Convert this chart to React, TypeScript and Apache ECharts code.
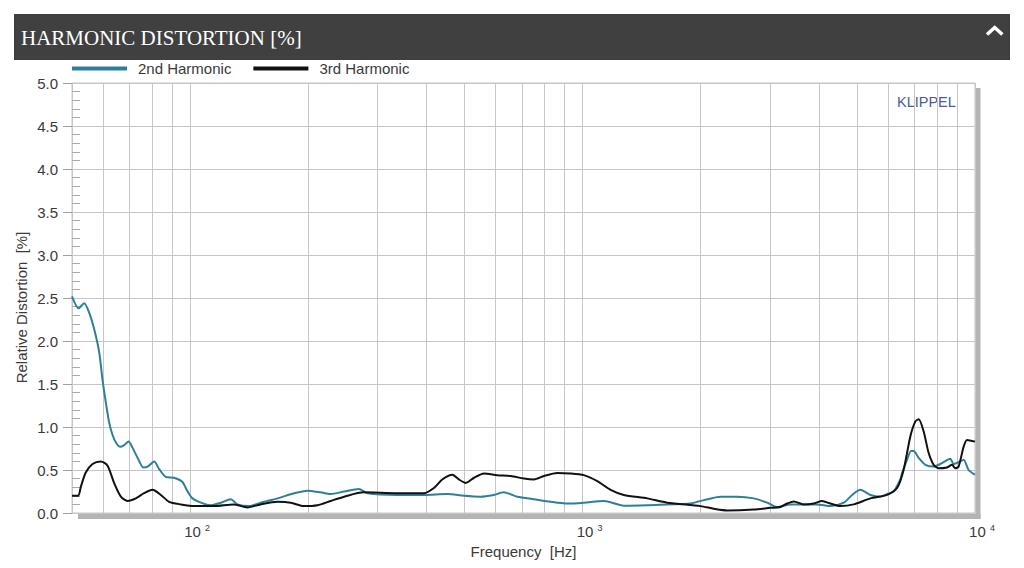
import React, { useEffect, useRef } from "react";
import * as echarts from "echarts";

const titleText = "HARMONIC DISTORTION [%]";
const seriesNames = ["2nd Harmonic", "3rd Harmonic"];
const seriesColors = ["#2f7f98", "#111111"];

const freq2 = [50, 52, 53.7, 55.3, 57, 58.7, 59.8, 61, 62.2, 63.4, 64.7, 66.3, 67.9, 69.7, 71.3, 73.5, 76, 77.9, 81, 83.4, 86.7, 91, 95.6, 98.5, 101.4, 106.5, 112.9, 119.7, 126.9, 132, 141.3, 151.4, 167, 184, 199, 215, 228, 247, 269, 283, 337, 394, 452, 499, 550, 594, 630, 682, 752, 829, 914, 1008, 1133, 1274, 1462, 1643, 1884, 2037, 2246, 2477, 2731, 2954, 3131, 3386, 3660, 3960, 4280, 4630, 4863, 5105, 5413, 5740, 5970, 6203, 6452, 6516, 6713, 6871, 6979, 7187, 7474, 7847, 8241, 8650, 8821, 9083, 9354, 9632, 10000];
const dist2 = [2.52, 2.38, 2.44, 2.33, 2.13, 1.86, 1.55, 1.28, 1.05, 0.91, 0.82, 0.77, 0.79, 0.83, 0.76, 0.64, 0.53, 0.54, 0.6, 0.51, 0.42, 0.41, 0.36, 0.25, 0.17, 0.12, 0.09, 0.12, 0.16, 0.1, 0.08, 0.12, 0.17, 0.23, 0.26, 0.24, 0.22, 0.25, 0.28, 0.23, 0.21, 0.21, 0.22, 0.2, 0.19, 0.21, 0.24, 0.19, 0.16, 0.13, 0.11, 0.12, 0.14, 0.085, 0.09, 0.1, 0.11, 0.15, 0.19, 0.19, 0.17, 0.12, 0.07, 0.1, 0.1, 0.1, 0.08, 0.12, 0.21, 0.27, 0.21, 0.19, 0.22, 0.25, 0.39, 0.46, 0.62, 0.72, 0.72, 0.64, 0.56, 0.54, 0.58, 0.63, 0.57, 0.59, 0.62, 0.5, 0.445];

const freq3 = [50, 51.8, 52.7, 54.2, 56.4, 59.2, 61.6, 64, 66.6, 69.3, 72.7, 76.3, 80.2, 84.2, 88.4, 94.7, 102.4, 115, 129, 140, 151, 167, 180.5, 195, 211, 228, 247, 277, 337, 394, 418, 439, 466, 484, 504, 529, 561, 606, 656, 709, 752, 797, 862, 932, 1008, 1090, 1179, 1274, 1462, 1643, 1998, 2160, 2337, 2731, 3010, 3193, 3321, 3452, 3660, 3882, 4077, 4280, 4539, 4908, 5413, 5970, 6330, 6577, 6842, 7047, 7187, 7397, 7617, 7847, 8080, 8489, 8738, 8910, 9083, 9354, 9543, 10000];
const dist3 = [0.2, 0.2, 0.31, 0.47, 0.57, 0.6, 0.55, 0.35, 0.19, 0.14, 0.17, 0.23, 0.27, 0.21, 0.13, 0.1, 0.08, 0.08, 0.1, 0.065, 0.1, 0.13, 0.12, 0.08, 0.09, 0.14, 0.19, 0.24, 0.23, 0.23, 0.29, 0.39, 0.445, 0.39, 0.35, 0.41, 0.46, 0.44, 0.43, 0.4, 0.39, 0.43, 0.465, 0.46, 0.44, 0.37, 0.27, 0.21, 0.17, 0.12, 0.08, 0.05, 0.03, 0.04, 0.06, 0.07, 0.11, 0.135, 0.1, 0.11, 0.14, 0.11, 0.08, 0.1, 0.17, 0.21, 0.29, 0.5, 0.89, 1.065, 1.09, 0.95, 0.7, 0.56, 0.52, 0.53, 0.56, 0.52, 0.54, 0.77, 0.85, 0.83];

const gridFreqs = [60, 70, 80, 90, 100, 200, 300, 400, 500, 600, 700, 800, 900, 1000, 2000, 3000, 4000, 5000, 6000, 7000, 8000, 9000, 10000];

const xMin = 50;
const xMax = 10000;
const yMin = 0;
const yMax = 5;
const yStep = 0.5;

const xTitle = "Frequency  [Hz]";
const yTitle = "Relative Distortion  [%]";
const brand = "KLIPPEL";

const SANS = "Liberation Sans, Arial, sans-serif";
const SERIF = "Liberation Serif, Times New Roman, serif";
const TXT = "#3a3a3a";
const GRID = "#c6c6c6";

export default function App() {
  const ref = useRef<HTMLDivElement>(null);
  useEffect(() => {
    if (!ref.current) return;
    const chart = echarts.init(ref.current, undefined, { renderer: "svg" });
    const d2 = freq2.map((f, i) => [f, dist2[i]]);
    const d3 = freq3.map((f, i) => [f, dist3[i]]);
    const option: any = {
      animation: false,
      backgroundColor: "#ffffff",
      grid: {
        left: 72,
        top: 83,
        width: 903,
        height: 430,
        show: true,
        borderColor: GRID,
        borderWidth: 1,
        backgroundColor: "#ffffff",
      },
      legend: {
        data: seriesNames,
        left: 72,
        top: 60,
        padding: 0,
        icon: "rect",
        itemWidth: 55,
        itemHeight: 4,
        itemGap: 22,
        selectedMode: false,
        textStyle: {
          fontSize: 15,
          fontFamily: SANS,
          color: TXT,
          padding: [0, 0, 0, 6],
          lineHeight: 17,
        },
      },
      xAxis: {
        type: "log",
        logBase: 10,
        min: xMin,
        max: xMax,
        axisLine: { show: false },
        axisTick: { show: false },
        splitLine: { show: false },
        axisLabel: {
          margin: 10,
          padding: [0, 0, 0, 14],
          formatter: (v: number) => {
            const e = Math.log10(v);
            if (Math.abs(e - Math.round(e)) < 1e-6 && v >= 99) {
              return "{b|10 }{s|" + Math.round(e) + "}";
            }
            return "";
          },
          rich: {
            b: { fontSize: 15, fontFamily: SANS, color: TXT, lineHeight: 17 },
            s: { fontSize: 9, fontFamily: SANS, color: TXT, verticalAlign: "top", lineHeight: 17 },
          },
        },
      },
      yAxis: [
        {
          type: "value",
          min: yMin,
          max: yMax,
          interval: yStep,
          position: "left",
          axisLine: { show: true, lineStyle: { color: GRID } },
          axisTick: { show: true, length: 9, lineStyle: { color: "#a0a0a0" } },
          splitLine: { show: true, lineStyle: { color: GRID, width: 1 } },
          axisLabel: {
            margin: 14,
            fontSize: 15,
            fontFamily: SANS,
            color: TXT,
            formatter: (v: number) => v.toFixed(1),
          },
        },
        {
          type: "value",
          min: yMin,
          max: yMax,
          interval: yStep,
          position: "left",
          axisLine: { show: false },
          axisTick: { show: false, inside: true },
          axisLabel: { show: false },
          splitLine: { show: false },
          minorTick: { show: true, splitNumber: 5, length: 8, lineStyle: { color: "#a8a8a8" } },
        },
      ],
      series: [
        {
          type: "line",
          name: "grid",
          data: [],
          silent: true,
          z: 1,
          markLine: {
            silent: true,
            symbol: "none",
            z: 1,
            label: { show: false },
            lineStyle: { color: GRID, type: "solid", width: 1 },
            data: gridFreqs.map((f) => ({ xAxis: f })),
          },
        },
        {
          type: "line",
          name: seriesNames[0],
          data: d2,
          showSymbol: false,
          smooth: 0.25,
          z: 3,
          lineStyle: { color: seriesColors[0], width: 2 },
          itemStyle: { color: seriesColors[0] },
        },
        {
          type: "line",
          name: seriesNames[1],
          data: d3,
          showSymbol: false,
          smooth: 0.25,
          z: 4,
          lineStyle: { color: seriesColors[1], width: 2 },
          itemStyle: { color: seriesColors[1] },
        },
      ],
      graphic: [
        { type: "rect", shape: { x: 14, y: 14, width: 996, height: 46 }, style: { fill: "#404040" }, silent: true },
        {
          type: "text",
          x: 21,
          y: 38,
          style: {
            text: titleText,
            fill: "#ffffff",
            font: "21px " + SERIF,
            textVerticalAlign: "middle",
            verticalAlign: "middle",
          },
        },
        {
          type: "polyline",
          shape: { points: [[987, 34.5], [994.7, 27.5], [1002.4, 34.5]] },
          style: { stroke: "#ffffff", lineWidth: 3.5, fill: "none" },
        },
        { type: "rect", shape: { x: 975.5, y: 88, width: 5, height: 431 }, style: { fill: "#b4b4b4" }, silent: true },
        { type: "rect", shape: { x: 78, y: 514, width: 902.5, height: 5 }, style: { fill: "#b4b4b4" }, silent: true },
        {
          type: "text",
          x: 897,
          y: 102,
          style: {
            text: brand,
            fill: "#4a5ba0",
            font: "14.5px " + SANS,
            textVerticalAlign: "middle",
            verticalAlign: "middle",
          },
        },
        {
          type: "text",
          x: 523.5,
          y: 551,
          style: {
            text: xTitle,
            fill: TXT,
            font: "15px " + SANS,
            textAlign: "center",
            align: "center",
            textVerticalAlign: "middle",
            verticalAlign: "middle",
          },
        },
        {
          type: "text",
          x: 21,
          y: 307.5,
          rotation: Math.PI / 2,
          style: {
            text: yTitle,
            fill: TXT,
            font: "15px " + SANS,
            textAlign: "center",
            align: "center",
            textVerticalAlign: "middle",
            verticalAlign: "middle",
          },
        },
      ],
    };
    chart.setOption(option);
    return () => chart.dispose();
  }, []);
  return (
    <div
      ref={ref}
      style={{ position: "absolute", left: 0, top: 0, width: 1024, height: 568, background: "#fff" }}
    />
  );
}
